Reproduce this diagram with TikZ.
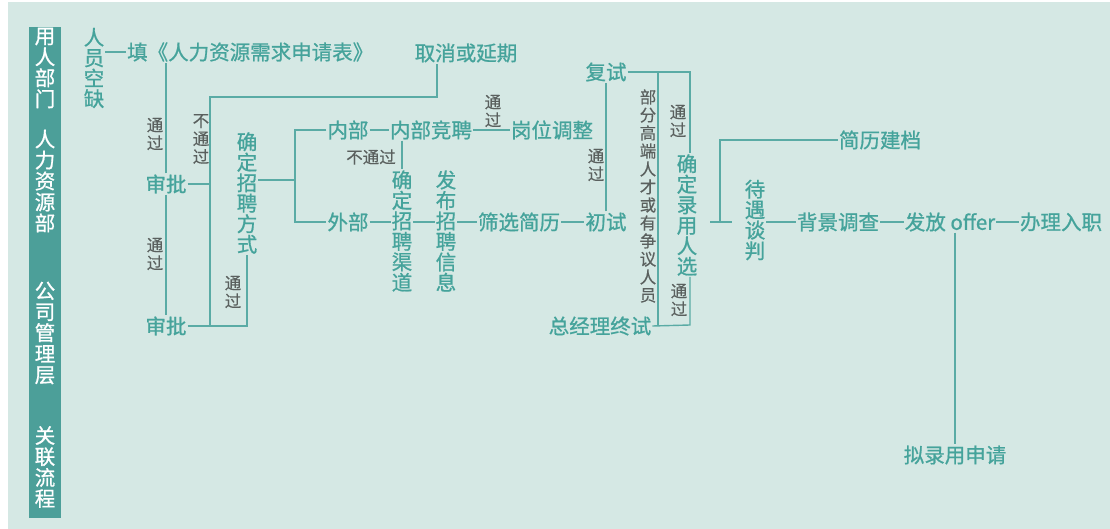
\documentclass[tikz,border=0pt]{standalone}
\usepackage{fontspec}
\usepackage{xcolor}
\setmainfont{Noto Sans CJK SC}
\newfontfamily\heavy{Noto Sans CJK SC}[FakeBold=0.9]
\newfontfamily\semi{Noto Sans CJK SC}[FakeBold=0.4]
\definecolor{mint}{HTML}{D5E8E4}
\definecolor{bar}{HTML}{4C9F99}
\definecolor{teal}{HTML}{45A39B}
\definecolor{wire}{HTML}{5AABA5}
\definecolor{note}{HTML}{5A605E}

\begin{document}
\begin{tikzpicture}[x=1pt,y=-1pt]
        \tikzset{proc/.style={text=teal,inner sep=1pt,align=center,
                font=\heavy\fontsize{20.5}{20.5}\selectfont},
            lane/.style={text=white,inner sep=0pt,align=center,
                font=\heavy\fontsize{20.5}{21}\selectfont},
            lbl/.style={text=note,inner sep=0pt,align=center,
                font=\semi\fontsize{16.5}{18}\selectfont},
            link/.style={draw=wire,line width=1.4pt}}
        \useasboundingbox (0,0) rectangle (1110,529);
        \fill[white] (0,0) rectangle (1110,529);
        \fill[mint] (8,2) rectangle (1110,529);
        \fill[bar] (29,27) rectangle (61,518);
        \node[lane] (user) at (45,68) {用\\人\\部\\门};
        \node[lane] (hr) at (45,181) {人\\力\\资\\源\\部};
        \node[lane] (boss) at (45,333) {公\\司\\管\\理\\层};
        \node[lane] (rel) at (45,467) {关\\联\\流\\程};

        \node[proc] (vac) at (94,68) {人\\员\\空\\缺};
        \node[proc,anchor=west] (form) at (126,52) {填《人力资源需求申请表》};
        \node[proc] (cancel) at (466,53) {取消或延期};
        \node[proc] (appr1) at (166,184) {审批};
        \node[proc] (appr2) at (166,326) {审批};
        \node[proc] (mode) at (247,193) {确\\定\\招\\聘\\方\\式};
        \node[proc] (inner) at (348,130) {内部};
        \node[proc] (outer) at (348,222) {外部};
        \node[proc] (compete) at (431,130) {内部竞聘};
        \node[proc] (adjust) at (552,130) {岗位调整};
        \node[proc] (channel) at (402,231) {确\\定\\招\\聘\\渠\\道};
        \node[proc] (publish) at (446,231) {发\\布\\招\\聘\\信\\息};
        \node[proc] (screen) at (519,222) {筛选简历};
        \node[proc] (first) at (606,222) {初试};
        \node[proc] (second) at (606,72) {复试};
        \node[proc] (final) at (600,326) {总经理终试};
        \node[proc] (hire) at (687,215) {确\\定\\录\\用\\人\\选};
        \node[proc] (salary) at (755,220) {待\\遇\\谈\\判};
        \node[proc] (archive) at (880,140) {简历建档};
        \node[proc] (check) at (838,222) {背景调查};
        \node[proc] (offer) at (950,222) {发放 offer};
        \node[proc] (onboard) at (1061,222) {办理入职};
        \node[proc] (apply) at (955,455) {拟录用申请};

        \node[lbl] at (155,134) {通\\过};
        \node[lbl] at (201,139) {不\\通\\过};
        \node[lbl] at (155,254) {通\\过};
        \node[lbl] at (233,292) {通\\过};
        \node[lbl] at (493,111) {通\\过};
        \node[lbl] at (371,157) {不通过};
        \node[lbl] at (596,165) {通\\过};
        \node[lbl] at (648,196) {部\\分\\高\\端\\人\\才\\或\\有\\争\\议\\人\\员};
        \node[lbl] at (678,121) {通\\过};
        \node[lbl] at (679,300) {通\\过};

        \coordinate (c1) at (210,97);
        \coordinate (c2) at (437,97);
        \coordinate (c3) at (295,180);
        \coordinate (c4) at (690,72);
        \coordinate (c5) at (658,72);
        \coordinate (c6) at (690,325);
        \coordinate (c7) at (720,222);

        \draw[link] (vac.east |- form) -- (form.west);
        \draw[link] (appr1.north) -- (appr1.north |- form.south);
        \draw[link] (appr1.south) -- (appr2.north);
        \draw[link] (appr1.east) -- (appr1.east -| c1);
        \draw[link] (c1 |- appr2) -- (c1) -- (c2) -- (c2 |- cancel.south);
        \draw[link] (appr2.east) -- (appr2.east -| mode) -- (mode.south);
        \draw[link] (mode.east |- c3) -- (c3);
        \draw[link] (inner.west) -- (inner.west -| c3) -- (outer.west -| c3) -- (outer.west);
        \draw[link] (inner) -- (compete);
        \draw[link] (compete) -- (adjust);
        \draw[link] (compete.south -| channel) -- (channel.north);
        \draw[link] (outer.east) -- (outer.east -| channel.west);
        \draw[link] (channel.east |- outer) -- (publish.west |- outer);
        \draw[link] (publish.east |- screen) -- (screen.west);
        \draw[link] (screen) -- (first);
        \draw[link] (first.north) -- (second.south);
        \draw[link] (second.east) -- (c4) -- (c4 |- hire.north);
        \draw[link] (c5) -- (c5 |- c6);
        \draw[link] (final.east) -- (c6) -- (c6 |- hire.south);
        \draw[link] ([xshift=-10pt]c7) -- ([xshift=12pt]c7);
        \draw[link] (c7) -- (c7 |- archive) -- (archive.west);
        \draw[link] (salary.east |- check) -- (check.west);
        \draw[link] (check) -- (offer);
        \draw[link] (offer) -- (onboard);
        \draw[link] (offer.south -| apply) -- (apply.north);
    \end{tikzpicture}
\end{document}
